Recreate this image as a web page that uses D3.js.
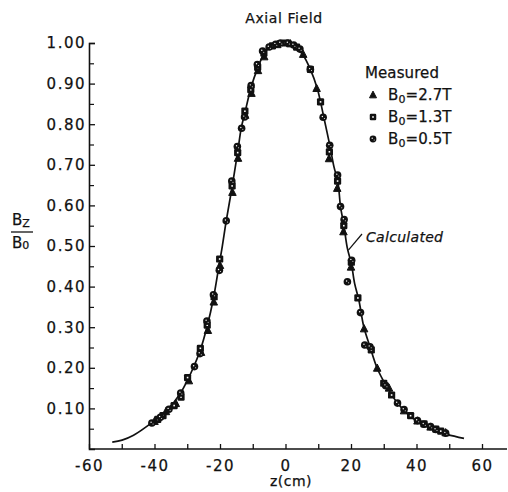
<!DOCTYPE html>
<html>
<head>
<meta charset="utf-8">
<script src="https://cdn.jsdelivr.net/npm/d3@7"></script>
<style>
  html, body { margin: 0; padding: 0; background: #fff; }
  svg { display: block; }
  text { font-family: "DejaVu Sans", sans-serif; fill: #111; stroke: #111; stroke-width: 0.25px; }
</style>
</head>
<body>
<div id="chart"></div>
<script>
// ---- data ----
const curveZ = [-52.9, -49.9, -46.4, -40.8, -36.2, -32.1, -29.9, -27.8, -26.0, -23.9, -22.1, -20.2, -19.4, -18.1, -16.3, -14.6, -13.5, -12.4, -10.5, -8.5, -6.6, -4.6, -1.5, 0.5, 3.1, 5.4, 7.6, 9.7, 10.7, 11.7, 13.5, 14.8, 16.0, 16.8, 17.8, 18.9, 20.1, 21.1, 22.4, 23.9, 25.8, 28.0, 30.6, 34.2, 38.2, 44.3, 49.4, 54.5];
const curveB = [0.017, 0.022, 0.034, 0.065, 0.096, 0.137, 0.170, 0.207, 0.244, 0.303, 0.367, 0.457, 0.494, 0.562, 0.646, 0.732, 0.791, 0.828, 0.891, 0.938, 0.973, 0.991, 1.000, 1.000, 0.990, 0.970, 0.935, 0.888, 0.855, 0.817, 0.749, 0.695, 0.658, 0.597, 0.552, 0.494, 0.457, 0.408, 0.367, 0.301, 0.252, 0.199, 0.158, 0.113, 0.080, 0.051, 0.036, 0.026];

const triZ = [-40.0, -36.5, -33.5, -29.5, -25.8, -23.7, -21.9, -20.0, -16.2, -14.5, -12.3, -10.4, -8.4, -6.5, -2.5, 1.5, 5.4, 9.5, 13.3, 15.8, 17.7, 20.0, 24.0, 28.0, 31.6, 36.2, 40.3, 44.3, 48.9];
const triB = [0.068, 0.092, 0.112, 0.168, 0.238, 0.292, 0.362, 0.452, 0.632, 0.716, 0.822, 0.876, 0.932, 0.966, 0.996, 0.998, 0.972, 0.888, 0.715, 0.642, 0.535, 0.448, 0.296, 0.199, 0.150, 0.094, 0.069, 0.054, 0.040];

const sqZ = [-39.0, -37.4, -34.0, -31.9, -29.9, -26.0, -23.9, -21.8, -20.1, -16.3, -14.6, -12.4, -10.6, -8.5, -6.6, -4.0, 0.0, 3.4, 7.6, 10.7, 13.4, 15.9, 17.8, 20.1, 22.1, 26.2, 30.0, 32.4, 38.2, 42.3, 45.9, 47.4];
const sqB = [0.073, 0.082, 0.107, 0.128, 0.176, 0.248, 0.305, 0.375, 0.468, 0.648, 0.730, 0.832, 0.885, 0.940, 0.975, 0.993, 1.000, 0.990, 0.935, 0.855, 0.732, 0.660, 0.550, 0.460, 0.372, 0.244, 0.162, 0.133, 0.082, 0.062, 0.049, 0.044];

const circZ = [-40.8, -38.2, -35.6, -32.0, -27.8, -26.1, -24.0, -22.0, -20.2, -18.1, -16.4, -14.7, -13.4, -12.5, -10.5, -8.6, -7.0, -5.0, -3.0, -1.5, 0.8, 2.5, 4.4, 7.6, 11.5, 13.5, 15.9, 16.8, 17.9, 18.9, 20.2, 22.9, 24.2, 25.8, 30.6, 34.2, 36.2, 40.3, 42.3, 44.3, 45.9, 48.9];
const circB = [0.064, 0.078, 0.098, 0.138, 0.203, 0.235, 0.315, 0.380, 0.440, 0.562, 0.660, 0.745, 0.790, 0.818, 0.895, 0.947, 0.980, 0.990, 0.997, 1.000, 1.000, 0.995, 0.985, 0.935, 0.817, 0.748, 0.675, 0.597, 0.565, 0.412, 0.465, 0.336, 0.256, 0.252, 0.156, 0.113, 0.097, 0.070, 0.061, 0.055, 0.048, 0.039];

const xMajorTicks = [-60, -40, -20, 0, 20, 40, 60];
const xMinorTicks = [-60, -50, -40, -30, -20, -10, 0, 10, 20, 30, 40, 50, 60];
const yMajorTicks = [0.1, 0.2, 0.3, 0.4, 0.5, 0.6, 0.7, 0.8, 0.9, 1.0];
const yMinorTicks = [0.05, 0.15, 0.25, 0.35, 0.45, 0.55, 0.65, 0.75, 0.85, 0.95];
const legendLabels = ["2.7T", "1.3T", "0.5T"];

// ---- layout ----
const W = 508, H = 492;
const svg = d3.select("#chart").append("svg").attr("width", W).attr("height", H);

const x = d3.scaleLinear().domain([-60, 60]).range([89, 482]);
const y = d3.scaleLinear().domain([0, 1]).range([449, 43]);

const ink = "#111";

// x axis
const gx = svg.append("g").attr("transform", `translate(0,${y(0)})`);
gx.call(d3.axisBottom(x).tickValues(xMinorTicks).tickSize(-5).tickFormat(""))
  .call(g => g.select(".domain").remove());
gx.selectAll("line").attr("stroke", ink).attr("stroke-width", 1.3);
gx.append("line").attr("x1", x(-60)).attr("x2", 507).attr("y1", 0).attr("y2", 0)
  .attr("stroke", ink).attr("stroke-width", 1.6);
const gxl = svg.append("g").attr("transform", `translate(0,${y(0)})`);
gxl.call(d3.axisBottom(x).tickValues(xMajorTicks).tickSize(0).tickPadding(11)
  .tickFormat(d => d < 0 ? "-" + Math.abs(d) : String(d)))
  .call(g => g.select(".domain").remove());
gxl.selectAll("text").attr("font-size", 15).attr("letter-spacing", "1.5px")
  .attr("font-family", "DejaVu Sans").attr("fill", ink);

// y axis
const gy = svg.append("g").attr("transform", `translate(${x(-60)},0)`);
gy.call(d3.axisLeft(y).tickValues(yMajorTicks).tickSize(-6).tickPadding(3)
  .tickFormat(d3.format(".2f")));
gy.select(".domain").attr("stroke", ink).attr("stroke-width", 1.6);
gy.selectAll("line").attr("stroke", ink).attr("stroke-width", 1.3);
gy.selectAll("text").attr("font-size", 15).attr("letter-spacing", "1.5px")
  .attr("font-family", "DejaVu Sans").attr("fill", ink);
const gy2 = svg.append("g").attr("transform", `translate(${x(-60)},0)`);
gy2.call(d3.axisLeft(y).tickValues(yMinorTicks).tickSize(-5).tickFormat(""))
  .call(g => g.select(".domain").remove());
gy2.selectAll("line").attr("stroke", ink).attr("stroke-width", 1.2);

// calculated curve
const curvePts = curveZ.map((z, i) => [z, curveB[i]]);
svg.append("path")
  .datum(curvePts)
  .attr("fill", "none")
  .attr("stroke", ink)
  .attr("stroke-width", 1.7)
  .attr("d", d3.line().x(d => x(d[0])).y(d => y(d[1])).curve(d3.curveCatmullRom));

// markers
function drawTri(g, cx, cy, s) {
  const h = s * 0.9;
  g.append("path").attr("d", `M${cx},${cy - h * 0.62}L${cx + s / 2},${cy + h * 0.45}L${cx - s / 2},${cy + h * 0.45}Z`)
    .attr("fill", ink).attr("stroke", ink).attr("stroke-width", 1);
}
function drawSq(g, cx, cy, s) {
  g.append("rect").attr("x", cx - s / 2).attr("y", cy - s / 2).attr("width", s).attr("height", s)
    .attr("rx", 1.2).attr("fill", ink);
  g.append("rect").attr("x", cx - 0.8).attr("y", cy - 0.8).attr("width", 1.6).attr("height", 1.6).attr("fill", "#fff");
}
function drawCirc(g, cx, cy, r) {
  g.append("circle").attr("cx", cx).attr("cy", cy).attr("r", r).attr("fill", ink);
  g.append("circle").attr("cx", cx - 0.8).attr("cy", cy - 0.8).attr("r", 0.7).attr("fill", "#fff");
  g.append("circle").attr("cx", cx + 1.2).attr("cy", cy + 1.1).attr("r", 0.5).attr("fill", "#fff");
}

const gm = svg.append("g");
triZ.forEach((z, i) => drawTri(gm, x(z), y(triB[i]), 7.5));
sqZ.forEach((z, i) => drawSq(gm, x(z), y(sqB[i]), 7.2));
circZ.forEach((z, i) => drawCirc(gm, x(z), y(circB[i]), 3.8));

// title
svg.append("text").attr("x", 284).attr("y", 23).attr("text-anchor", "middle")
  .attr("font-size", 14).attr("letter-spacing", "0.6px").text("Axial Field");

// legend
const lg = svg.append("g");
lg.append("text").attr("x", 365).attr("y", 78).attr("font-size", 15).attr("letter-spacing", "0.1px").text("Measured");
const rowY = [95, 117, 139];
drawTri(lg, 373, rowY[0], 7);
drawSq(lg, 373, rowY[1], 6.5);
drawCirc(lg, 373, rowY[2], 3.4);
legendLabels.forEach((lab, i) => {
  const t = lg.append("text").attr("x", 388).attr("y", rowY[i] + 5).attr("font-size", 15).attr("letter-spacing", "0.1px");
  t.append("tspan").text("B");
  t.append("tspan").attr("font-size", 11).attr("dy", 3).text("0");
  t.append("tspan").attr("dy", -3).text("=" + lab);
});

// calculated label
svg.append("line").attr("x1", x(18.9) + 1).attr("y1", y(0.49)).attr("x2", 362).attr("y2", 234)
  .attr("stroke", ink).attr("stroke-width", 1.2);
svg.append("text").attr("x", 366).attr("y", 242).attr("font-size", 14).attr("font-style", "italic")
  .attr("letter-spacing", "0.3px").text("Calculated");

// y label (fraction)
const yl = svg.append("g");
const t1 = yl.append("text").attr("x", 12).attr("y", 225).attr("font-size", 15);
t1.append("tspan").text("B");
t1.append("tspan").attr("font-size", 11).attr("dy", 2).text("Z");
yl.append("line").attr("x1", 11).attr("x2", 33).attr("y1", 232).attr("y2", 232).attr("stroke", ink).attr("stroke-width", 1.3);
const t2 = yl.append("text").attr("x", 12).attr("y", 248).attr("font-size", 15);
t2.append("tspan").text("B");
t2.append("tspan").attr("font-size", 11).attr("dy", 1).text("0");

// x label
svg.append("text").attr("x", 291).attr("y", 486).attr("text-anchor", "middle")
  .attr("font-size", 14).attr("letter-spacing", "0.5px").text("z(cm)");
</script>
</body>
</html>
